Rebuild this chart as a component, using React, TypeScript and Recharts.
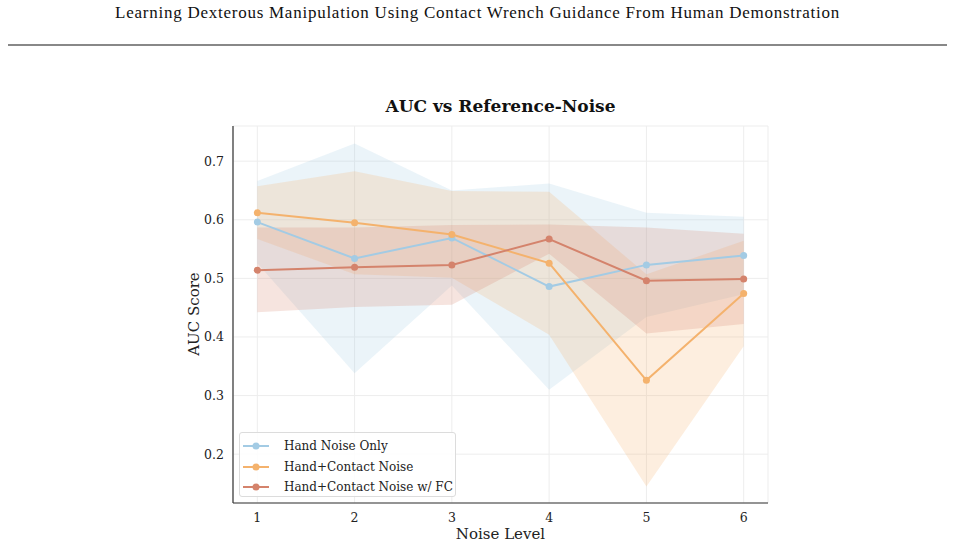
import { ComposedChart, Line, Area, XAxis, YAxis, CartesianGrid } from "recharts"

const noiseLevels = [1, 2, 3, 4, 5, 6]

const handOnly = [0.596, 0.534, 0.569, 0.486, 0.523, 0.539]
const handOnlyLow = [0.526, 0.338, 0.488, 0.31, 0.434, 0.473]
const handOnlyHigh = [0.666, 0.73, 0.65, 0.662, 0.612, 0.605]

const handContact = [0.612, 0.595, 0.575, 0.526, 0.326, 0.474]
const handContactLow = [0.567, 0.507, 0.501, 0.404, 0.145, 0.384]
const handContactHigh = [0.657, 0.683, 0.649, 0.648, 0.507, 0.564]

const handContactFC = [0.514, 0.519, 0.523, 0.567, 0.496, 0.499]
const handContactFCLow = [0.442, 0.451, 0.455, 0.542, 0.406, 0.422]
const handContactFCHigh = [0.587, 0.587, 0.591, 0.592, 0.587, 0.576]

const yTicks = [0.2, 0.3, 0.4, 0.5, 0.6, 0.7]

const BLUE = "#a3cbe4"
const ORANGE = "#f4b26d"
const RED = "#d4836c"

const series = [
  { key: "handOnly", name: "Hand Noise Only", color: BLUE },
  { key: "handContact", name: "Hand+Contact Noise", color: ORANGE },
  { key: "handContactFC", name: "Hand+Contact Noise w/ FC", color: RED },
]

const data = noiseLevels.map((x, i) => ({
  x,
  handOnly: handOnly[i],
  handOnlyBand: [handOnlyLow[i], handOnlyHigh[i]],
  handContact: handContact[i],
  handContactBand: [handContactLow[i], handContactHigh[i]],
  handContactFC: handContactFC[i],
  handContactFCBand: [handContactFCLow[i], handContactFCHigh[i]],
}))

const serif = "'DejaVu Serif', serif"

function LegendBox() {
  return (
    <div
      style={{
        position: "absolute",
        left: 239,
        top: 432,
        width: 217,
        height: 65,
        boxSizing: "border-box",
        border: "1px solid #dcdcdc",
        borderRadius: 3,
        background: "rgba(255,255,255,0.85)",
        padding: "3px 0 0 2px",
        fontFamily: serif,
        fontSize: 12,
        color: "#222",
      }}
    >
      {series.map((s) => (
        <div key={s.key} style={{ display: "flex", alignItems: "center", height: 20.5 }}>
          <svg width={28} height={10} style={{ marginRight: 14 }}>
            <line x1={1} y1={5} x2={27} y2={5} stroke={s.color} strokeWidth={2} />
            <circle cx={14} cy={5} r={3.5} fill={s.color} />
          </svg>
          <span>{s.name}</span>
        </div>
      ))}
    </div>
  )
}

export default function App() {
  return (
    <div style={{ position: "absolute", left: 0, top: 0, width: 955, height: 547, background: "#fff" }}>
      <div
        style={{
          position: "absolute",
          left: 0,
          width: 955,
          top: 3,
          textAlign: "center",
          fontFamily: "'Liberation Serif', serif",
          fontSize: 17,
          letterSpacing: 0.75,
          color: "#111",
        }}
      >
        Learning Dexterous Manipulation Using Contact Wrench Guidance From Human Demonstration
      </div>
      <div style={{ position: "absolute", left: 8, top: 44, width: 939, height: 2, background: "#888" }} />
      <div
        style={{
          position: "absolute",
          left: 233,
          width: 535,
          top: 96,
          textAlign: "center",
          fontFamily: serif,
          fontWeight: "bold",
          fontSize: 17,
          color: "#111",
        }}
      >
        AUC vs Reference-Noise
      </div>
      <div
        style={{
          position: "absolute",
          left: 233,
          width: 535,
          top: 525,
          textAlign: "center",
          fontFamily: serif,
          fontSize: 15,
          color: "#222",
        }}
      >
        Noise Level
      </div>
      <div
        style={{
          position: "absolute",
          left: 194 - 60,
          top: 314 - 10,
          width: 120,
          height: 20,
          lineHeight: "20px",
          textAlign: "center",
          transform: "rotate(-90deg)",
          fontFamily: serif,
          fontSize: 15,
          color: "#222",
        }}
      >
        AUC Score
      </div>
      <ComposedChart
        width={955}
        height={547}
        data={data}
        margin={{ top: 126, right: 187, left: 173, bottom: 14 }}
        style={{ position: "absolute", left: 0, top: 0 }}
      >
        <CartesianGrid stroke="#ededed" strokeWidth={1} />
        <XAxis
          dataKey="x"
          type="number"
          domain={[0.75, 6.25]}
          ticks={noiseLevels}
          height={30}
          tickLine={false}
          tickSize={0}
          tickMargin={10}
          axisLine={{ stroke: "#333", strokeWidth: 1.2 }}
          tick={{ fontFamily: serif, fontSize: 12.5, fill: "#222" }}
          allowDataOverflow
        />
        <YAxis
          type="number"
          domain={[0.1167, 0.76]}
          ticks={yTicks}
          width={60}
          tickLine={false}
          tickSize={0}
          tickMargin={9}
          axisLine={{ stroke: "#333", strokeWidth: 1.2 }}
          tick={{ fontFamily: serif, fontSize: 12.5, fill: "#222" }}
          tickFormatter={(v: number) => v.toFixed(1)}
          allowDataOverflow
        />
        {series.map((s) => (
          <Area
            key={s.key + "Band"}
            dataKey={s.key + "Band"}
            type="linear"
            stroke="none"
            fill={s.color}
            fillOpacity={0.22}
            legendType="none"
            dot={false}
            activeDot={false}
            isAnimationActive={false}
          />
        ))}
        {series.map((s) => (
          <Line
            key={s.key}
            dataKey={s.key}
            name={s.name}
            type="linear"
            stroke={s.color}
            strokeWidth={2}
            dot={{ r: 3.5, fill: s.color, stroke: "none" }}
            activeDot={false}
            isAnimationActive={false}
          />
        ))}
      </ComposedChart>
      <LegendBox />
    </div>
  )
}
